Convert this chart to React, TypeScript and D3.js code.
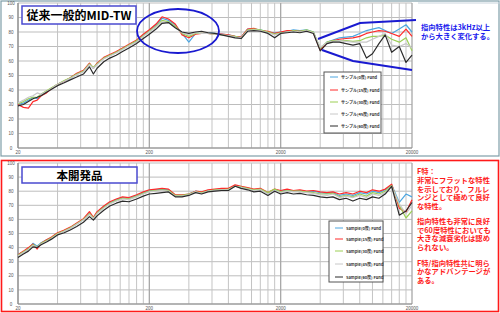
import React from "react";
import * as d3 from "d3";

const freqs = [20,22,24,26,28,30,33,36,40,45,50,56,63,70,75,80,90,100,112,125,140,160,180,200,225,250,280,315,355,400,450,500,560,630,710,800,900,1000,1120,1250,1400,1600,1800,2000,2240,2500,2800,3150,3550,4000,4500,5000,5600,6300,7100,8000,9000,10000,11200,12500,14000,16000,18000,20000];

const topBlue = [30,31,33,35,34,37,39,41,44,46,48,51,53, 58,55,58,62,64,66,68.5,71,74,78,81,85,89.5,88,85, 79,73,79,79,79.5,79,78.5,78,77,76.5, 82,82,81.5,80,79.5,80,80.5,81.5,81,81.5,80,68,73,74.5, 76,76.5,77,79,81,82,83,81,79,82,85,80];
const topRed = [30,28,27.5,32,33,36,38,41,44,46,48.5,51.5,53.5, 58.5,55,58.5,62.5,64.5,66.5,69,71.5,74.5,78.5,81.5,85.5,90.5,89,85.5, 78,76,78.5,79,79,78.5,78.5,78,77,76.5, 82,82.5,81,80.5,79,80,81,81,80.5,81,79.5,67.5,72.5,74, 75,75.5,76,77,79,80,81,80.5,79,77,82,77];
const topGreen = [30.5,32,34,35,35,37,39.5,41.5,44,46.5,48.5,51,53, 58,55.5,58,62,64,66,68.5,71,74,77.5,80.5,84,88,87,84, 79,77,79,79,79,78.5,78,77.5,77,76, 81.5,82,81.5,80,78.5,79.5,80,81,80.5,81.5,80,69,73,74, 74,74,73.5,74,76,77,77,78,75,73,76,67];
const topGray = [31,33,35,36,38,37,39,41,44,46,48,50.5,52.5, 57.5,55,57.5,61.5,63.5,65.5,68,70.5,73,77,80,83.5,87,86.5,83, 79.5,78,79.5,79,79,78.5,78,77.5,76.5,76, 81,81.5,81,79.5,78,79,80,80.5,80,81,79.5,69.5,72.5,73.5, 74,73.5,73,73,73,75,77,79,71,70,72,69];
const topBlack = [29,30,32,34,35,36,38.5,40.5,43,45,47,49,51, 56,51,55,59.5,62,64,66.5,69,72,75.5,78.5,82,86,86.5,83, 80,79,80,80.5,79.5,79,78,77,76,75.5, 80.5,81,80.5,79,76,79,79.5,80,79.5,80.5,79,67,72,73, 73,72,71,72,62,65,72,78,66,70,59,64];

const botBlue = [35,37,39,43,41,43.5,45.5,47,50,52,54,57,60, 64.5,61,65,69,72,74,75.5,75,77,79,80.5,81,81.5,81,77, 77,78,80,79,80.5,81,81.5,81.5,84,83, 82,81,81.5,78.5,81,80,81,80,80.5,79.5,80,79,78.5,79, 77,78,77,79,78,80,79,81,84.5,72,78,76];
const botRed = [35,37.5,40,42.5,39,43,45.5,47.5,50.5,52.5,54.5,57.5,60.5, 65.5,61.5,65.5,69.5,72.5,74.5,76,75.5,77.5,79.5,81,81.5,82,81.5,77.5, 77.5,78,80,79.5,81,81.5,82,82,84.5,83.5, 82.5,81.5,82,79,81.5,80.5,81.5,80.5,81,80,80.5,79.5,79,79.5, 78,79,78,80,79,81,80,81.5,85,68,65,74];
const botGreen = [34.5,37,39,42,40.5,43,45,47,50,52,54,57,60, 64,61,64.5,68.5,71.5,73.5,75,74.5,76.5,78.5,80,80.5,81,80.5,77, 77,78,79.5,79,80,81,81,81.5,83.5,83, 82,81,81.5,79,81.5,79.5,80.5,80,80,79.5,79,78,78,78.5, 76,77,76,78,76.5,79,78,80,84,70,61,66];
const botGray = [34,36.5,38.5,41.5,40.5,42.5,44.5,46.5,49.5,51.5,53.5,56.5,59.5, 63.5,60.5,64,68,71,73,74.5,74,76,78,79.5,80,80.5,80,76.5, 76.5,77.5,79.5,78.5,80,80.5,81,81,83.5,82.5, 81.5,80.5,81,78,80.5,79,80,79.5,79.5,79,78.5,77.5,77,78, 75.5,76.5,75.5,77,75.5,78,77,79,83.5,71,64,70];
const botBlack = [33,35.5,37.5,40.5,40,42,44,46,49,50.5,52.5,55,58, 62,59.5,62.5,66.5,69.5,71.5,73,72.5,74.5,76.5,78,78.5,79,79.5,76, 76,77,79,78,79.5,80,80.5,80.5,83.5,82, 81,79.5,80,77,80,78,79,78,78.5,77.5,77,76,75.5,76, 74,75,73,75,74,76,75,78,83.5,63,66,72];

const seriesColors = ["#4da6e0", "#ff2a2a", "#9ccf55", "#c8c8c8", "#2b2b2b"];
const topLabels = ["サンプル(0度) Fund", "サンプル(15度) Fund", "サンプル(30度) Fund", "サンプル(45度) Fund", "サンプル(60度) Fund"];
const botLabels = ["Sample(0度) Fund", "Sample(15度) Fund", "Sample(30度) Fund", "Sample(45度) Fund", "Sample(60度) Fund"];
const xTickLabels = [20, 200, 2000, 20000];
const gridMultipliers = [1, 2, 3, 4, 5, 6, 7, 8, 9];
const yTicks = [0, 10, 20, 30, 40, 50, 60, 70, 80, 90, 100];

const redNotes = [
  "F特：", "非常にフラットな特性", "を示しており、フルレ", "ンジとして極めて良好", "な特性。",
  "指向特性も非常に良好", "で60度特性においても", "大きな減衰劣化は認め", "られない。",
  "F特/指向特性共に明ら", "かなアドバンテージが", "ある。"
];
const redNoteRows = [0, 1, 2, 3, 4, 5.65, 6.65, 7.65, 8.65, 10.4, 11.4, 12.4];
const blueNotes = ["指向特性は3kHz以上", "から大きく変化する。"];

const JP = "'Noto Sans CJK JP', 'Noto Sans', sans-serif";
const LAT = "'Liberation Sans', Arial, sans-serif";

type PanelProps = {
  top: number; bottom: number; data: number[][]; labels: string[];
  legend: { x: number; y: number; w: number; h: number; ys: number[] };
  labelY: number;
};

function Panel({ top, bottom, data, labels, legend, labelY }: PanelProps) {
  const x = d3.scaleLog().domain([20, 20000]).range([18, 412]);
  const y = d3.scaleLinear().domain([0, 100]).range([bottom, top]);
  const line = d3.line<number>().x((_, i) => x(freqs[i])).y((v) => y(v));
  const grid: { f: number; major: boolean }[] = [];
  [20, 200, 2000].forEach((b) => gridMultipliers.forEach((m) => grid.push({ f: b * m, major: m === 1 })));
  grid.push({ f: 20000, major: true });
  return (
    <g>
      {yTicks.map((t) => (
        <line key={"h" + t} x1={18} x2={412} y1={y(t)} y2={y(t)} stroke="#bdbdbd" strokeWidth={1} />
      ))}
      {grid.map((g) => (
        <line key={"v" + g.f} x1={x(g.f)} x2={x(g.f)} y1={top} y2={bottom} stroke={g.major ? "#a8a8a8" : "#c4c4c4"} strokeWidth={g.major ? 1.3 : 1} />
      ))}
      <line x1={18} x2={18} y1={top} y2={bottom} stroke="#8a8a8a" />
      <line x1={18} x2={412} y1={bottom} y2={bottom} stroke="#8a8a8a" />
      {yTicks.map((t) => (
        <text key={"yl" + t} x={11} y={y(t) + 1.6} fontSize={4.5} fill="#555" textAnchor="middle" fontFamily={LAT}>{t}</text>
      ))}
      {xTickLabels.map((t) => (
        <text key={"xl" + t} x={x(t)} y={labelY} fontSize={4.5} fill="#555" textAnchor="middle" fontFamily={LAT}>{t}</text>
      ))}
      {data.map((s, i) => (
        <path key={"s" + i} d={line(s) || ""} fill="none" stroke={seriesColors[i]} strokeWidth={1.2} strokeLinejoin="round" />
      ))}
      <rect x={legend.x} y={legend.y} width={legend.w} height={legend.h} fill="#fff" stroke="#555" strokeWidth={1} />
      {labels.map((l, i) => (
        <g key={"lg" + i}>
          <line x1={legend.x + 6} x2={legend.x + 14} y1={legend.ys[i]} y2={legend.ys[i]} stroke={seriesColors[i]} strokeWidth={1} />
          <text x={legend.x + 17} y={legend.ys[i] + 1.5} fontSize={4} fontWeight="bold" fill="#333" fontFamily={JP}>{l}</text>
        </g>
      ))}
    </g>
  );
}

export default function App() {
  return (
    <svg width={500} height={313} style={{ position: "fixed", left: 0, top: 0, background: "#fff" }}>
      <rect x={0} y={0} width={500} height={313} fill="#fff" />
      <rect x={1} y={1} width={498} height={155} fill="none" stroke="#7f9ea8" strokeWidth={1.2} />
      <line x1={418} x2={500} y1={3} y2={3} stroke="#c8d4dc" />
      <Panel top={3} bottom={148} data={[topBlue, topRed, topGreen, topGray, topBlack]} labels={topLabels}
        legend={{ x: 324, y: 72, w: 57, h: 61, ys: [77, 90, 102, 114, 126] }} labelY={154} />
      <rect x={1.5} y={160.5} width={497} height={151} fill="none" stroke="#ff1a1a" strokeWidth={1.6} />
      <Panel top={163} bottom={304} data={[botBlue, botRed, botGreen, botGray, botBlack]} labels={botLabels}
        legend={{ x: 329, y: 221, w: 54, h: 61, ys: [228, 239, 251, 264, 277] }} labelY={309.5} />
      <rect x={22} y={6} width={114} height={18} fill="#fff" stroke="#4a4acf" strokeWidth={1.5} />
      <text x={79} y={19.5} fontSize={12} fontWeight="bold" textAnchor="middle" fontFamily={JP} fill="#000">従来一般的MID-TW</text>
      <rect x={22} y={167} width={115} height={16} fill="#fff" stroke="#4a4acf" strokeWidth={1.5} />
      <text x={79.5} y={179.5} fontSize={11.5} fontWeight="bold" textAnchor="middle" fontFamily={JP} fill="#000">本開発品</text>
      <ellipse cx={178} cy={31} rx={41} ry={22} fill="none" stroke="#1a1ad0" strokeWidth={1.8} />
      <polyline points="318,39 360,23 416,20" fill="none" stroke="#1a1ad0" strokeWidth={2} />
      <polyline points="322,50 353,61 412,70" fill="none" stroke="#1a1ad0" strokeWidth={2} />
      {blueNotes.map((t, i) => (
        <text key={"b" + i} x={421} y={30 + i * 8.7} fontSize={7.3} fontWeight="bold" fill="#1a1aee" fontFamily={JP}>{t}</text>
      ))}
      {redNotes.map((t, i) => (
        <text key={"r" + i} x={417} y={174 + redNoteRows[i] * 8.8} fontSize={7.3} fontWeight="bold" fill="#ff1a1a" fontFamily={JP}>{t}</text>
      ))}
    </svg>
  );
}
